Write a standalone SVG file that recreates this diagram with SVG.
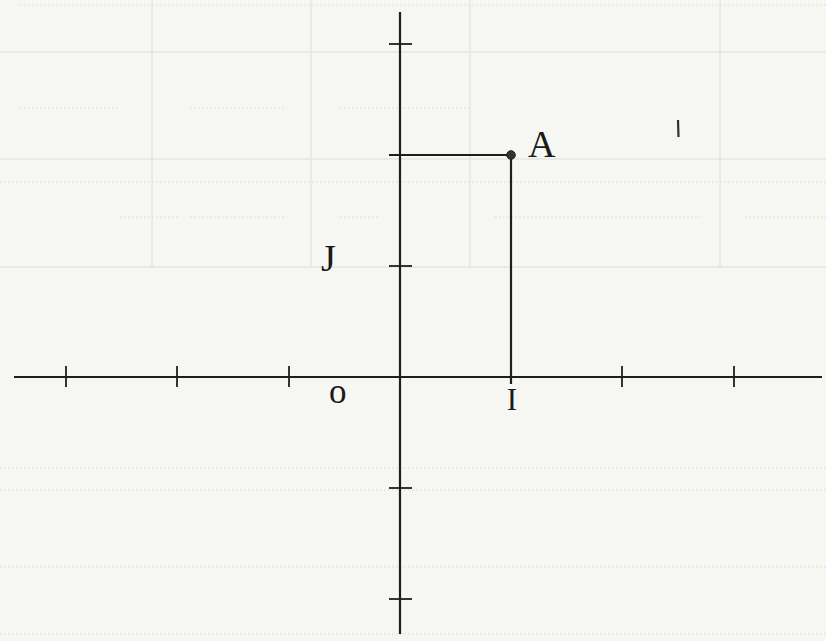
<svg xmlns="http://www.w3.org/2000/svg" width="826" height="641" viewBox="0 0 826 641">
  <style>
    .bg { fill: #f6f7f2; }
    .faint { stroke: #e4e6e0; stroke-width: 1.5; fill: none; }
    .dots { stroke: #e0e2dc; stroke-width: 1.6; stroke-dasharray: 1.5 2.5; fill: none; }
    .axis { stroke: #1e1e1e; stroke-width: 2.2; fill: none; }
    .tick { stroke: #1e1e1e; stroke-width: 1.8; fill: none; }
    .proj { stroke: #1e1e1e; stroke-width: 2.2; fill: none; }
    .lbl { font-family: "Liberation Serif", "Times New Roman", serif; fill: #1a1a1a; }
  </style>
  <rect class="bg" x="0" y="0" width="826" height="641"/>

  <g id="background-grid">
    <line class="faint" x1="152" y1="0" x2="152" y2="268"/>
    <line class="faint" x1="311" y1="0" x2="311" y2="268"/>
    <line class="faint" x1="470" y1="0" x2="470" y2="268"/>
    <line class="faint" x1="720" y1="0" x2="720" y2="268"/>
    <line class="faint" x1="0" y1="52" x2="826" y2="52"/>
    <line class="faint" x1="0" y1="159" x2="826" y2="159"/>
    <line class="faint" x1="0" y1="267" x2="826" y2="267"/>
    <line class="dots" x1="20" y1="5" x2="826" y2="5"/>
    <line class="dots" x1="20" y1="108" x2="120" y2="108"/>
    <line class="dots" x1="190" y1="108" x2="285" y2="108"/>
    <line class="dots" x1="340" y1="108" x2="470" y2="108"/>
    <line class="dots" x1="0" y1="182" x2="826" y2="182"/>
    <line class="dots" x1="120" y1="217" x2="180" y2="217"/>
    <line class="dots" x1="190" y1="217" x2="285" y2="217"/>
    <line class="dots" x1="340" y1="217" x2="380" y2="217"/>
    <line class="dots" x1="495" y1="217" x2="700" y2="217"/>
    <line class="dots" x1="745" y1="217" x2="826" y2="217"/>
    <line class="dots" x1="0" y1="468" x2="826" y2="468"/>
    <line class="dots" x1="0" y1="490" x2="826" y2="490"/>
    <line class="dots" x1="0" y1="567" x2="826" y2="567"/>
    <line class="dots" x1="0" y1="634" x2="826" y2="634"/>
  </g>

  <g id="axes">
    <line class="axis" x1="14" y1="377" x2="822" y2="377"/>
    <line class="axis" x1="400" y1="12" x2="400" y2="634"/>
  </g>

  <g id="ticks">
    <line class="tick" x1="66" y1="366" x2="66" y2="387"/>
    <line class="tick" x1="177" y1="366" x2="177" y2="387"/>
    <line class="tick" x1="289" y1="366" x2="289" y2="387"/>
    <line class="tick" x1="622" y1="366" x2="622" y2="387"/>
    <line class="tick" x1="734" y1="366" x2="734" y2="387"/>
    <line class="tick" x1="389" y1="44" x2="412" y2="44"/>
    <line class="tick" x1="389" y1="266" x2="412" y2="266"/>
    <line class="tick" x1="389" y1="488" x2="412" y2="488"/>
    <line class="tick" x1="389" y1="599" x2="412" y2="599"/>
  </g>

  <g id="connectors">
    <line class="proj" x1="389" y1="155" x2="511" y2="155"/>
    <line class="proj" x1="511" y1="155" x2="511" y2="384"/>
  </g>

  <g id="node-A">
    <circle cx="511" cy="155" r="4.3" fill="#333" stroke="#1e1e1e" stroke-width="1"/>
    <text class="lbl" x="528" y="157" font-size="38">A</text>
  </g>
  <g id="node-J">
    <text class="lbl" x="321" y="271" font-size="38">J</text>
  </g>
  <g id="node-O">
    <text class="lbl" x="329" y="403" font-size="35">o</text>
  </g>
  <g id="node-I">
    <text class="lbl" x="512" y="410" font-size="31" text-anchor="middle">I</text>
  </g>
  <g id="mark">
    <line x1="678" y1="120" x2="678.5" y2="137" stroke="#333" stroke-width="2.2"/>
  </g>
</svg>
